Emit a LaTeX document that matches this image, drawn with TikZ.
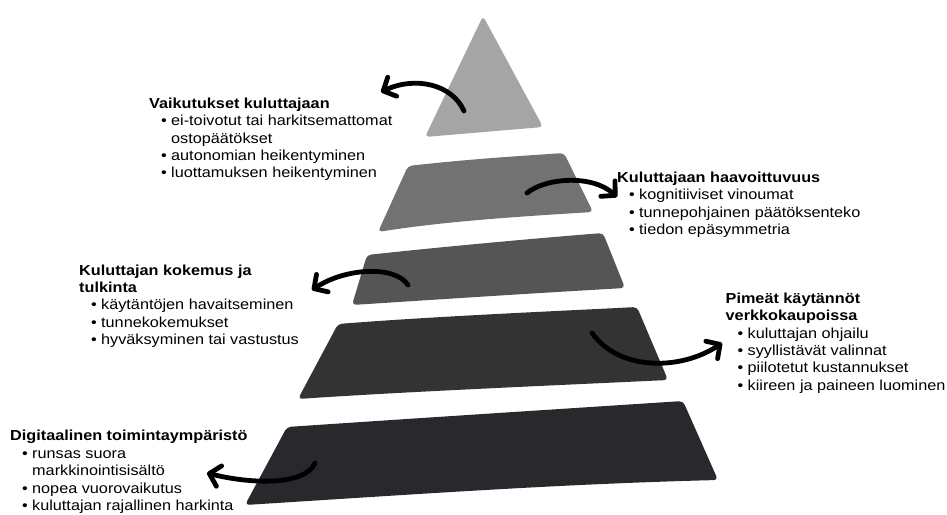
\documentclass[tikz,border=0pt]{standalone}
\usepackage{fontspec}
\setmainfont{Liberation Sans}[FakeStretch=1.12]
\usetikzlibrary{arrows.meta}
\definecolor{lvA}{HTML}{A5A5A5}
\definecolor{lvB}{HTML}{727272}
\definecolor{lvC}{HTML}{555555}
\definecolor{lvD}{HTML}{333333}
\definecolor{lvE}{HTML}{29282D}
\newcommand\bul{\hspace*{12pt}\makebox[10pt][l]{\textbullet}}
\newcommand\cont{\hspace*{22pt}}
\tikzset{
  band/.style={rounded corners=4pt},
  txt/.style={anchor=base west, inner sep=0pt, align=left, font={\fontsize{14.5}{17.4}\selectfont}},
  curl/.style={line width=4.8pt, line cap=round, -{Straight Barb[length=10pt,width=21pt,round]}},
}
\begin{document}
\begin{tikzpicture}[x=1pt,y=-1pt]
\useasboundingbox (0,0) rectangle (947,514);
% pyramid levels
\fill[lvA,band] (483,16) -- (543,127) -- (425,137) -- cycle;
\fill[lvB,band] (408,166) .. controls (470,159) and (520,156) .. (564,153) -- (593,212)
   .. controls (510,217) and (440,222) .. (378,232) -- cycle;
\fill[lvC,band] (367,255) .. controls (450,246) and (540,238) .. (603,233) -- (625,288)
   .. controls (520,294) and (430,300) .. (352,305) -- cycle;
\fill[lvD,band] (338,324) .. controls (440,316) and (560,311) .. (637,307) -- (668,380)
   .. controls (540,386) and (400,392) .. (298,399) -- cycle;
\fill[lvE,band] (287,427) .. controls (420,418) and (560,409) .. (683,401) -- (718,480)
   .. controls (560,484) and (420,494) .. (245,505) -- cycle;
% texts (anchored at the baseline of their last line)
\node[txt] (vaik) at (149,177.9) {\textbf{Vaikutukset kuluttajaan}\\
  \bul ei-toivotut tai harkitsemattomat\\
  \cont ostopäätökset\\
  \bul autonomian heikentyminen\\
  \bul luottamuksen heikentyminen};
\node[txt] (haav) at (617,234.5) {\textbf{Kuluttajaan haavoittuvuus}\\
  \bul kognitiiviset vinoumat\\
  \bul tunnepohjainen päätöksenteko\\
  \bul tiedon epäsymmetria};
\node[txt] (koke) at (79,344.6) {\textbf{Kuluttajan kokemus ja}\\
  \textbf{tulkinta}\\
  \bul käytäntöjen havaitseminen\\
  \bul tunnekokemukset\\
  \bul hyväksyminen tai vastustus};
\node[txt] (pime) at (725.5,390.3) {\textbf{Pimeät käytännöt}\\
  \textbf{verkkokaupoissa}\\
  \bul kuluttajan ohjailu\\
  \bul syyllistävät valinnat\\
  \bul piilotetut kustannukset\\
  \bul kiireen ja paineen luominen};
\node[txt] (digi) at (10,510.5) {\textbf{Digitaalinen toimintaympäristö}\\
  \bul runsas suora\\
  \cont markkinointisisältö\\
  \bul nopea vuorovaikutus\\
  \bul kuluttajan rajallinen harkinta};
% arrow ends
\coordinate (a1s) at (464,111); \coordinate (a1e) at (381,92);
\coordinate (a2s) at (527,193); \coordinate (a2e) at (617,197);
\coordinate (a3s) at (408,285); \coordinate (a3e) at (312,290);
\coordinate (a4s) at (592,333); \coordinate (a4e) at (722,343);
\coordinate (a5s) at (315,463); \coordinate (a5e) at (207,473);
\draw[curl] (a1s) .. controls (452,84) and (415,76) .. (a1e);
\draw[curl] (a2s) .. controls (545,178) and (592,174) .. (a2e);
\draw[curl] (a3s) .. controls (395,265) and (345,268) .. (a3e);
\draw[curl] (a4s) .. controls (620,372) and (682,370) .. (a4e);
\draw[curl] (a5s) .. controls (305,486) and (250,484) .. (a5e);
\end{tikzpicture}
\end{document}
